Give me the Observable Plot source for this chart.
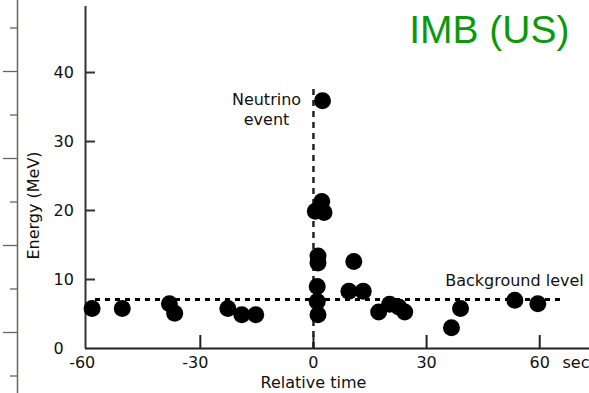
<!DOCTYPE html>
<html>
<head>
<meta charset="utf-8">
<script src="https://cdn.jsdelivr.net/npm/d3@7"></script>
<script src="https://cdn.jsdelivr.net/npm/@observablehq/plot@0.6"></script>
<style>
  html, body { margin: 0; padding: 0; background: #fff; }
  #chart svg { display: block; }
</style>
</head>
<body>
<div id="chart"></div>
<script>
// ---- Data ----
const times    = [-58.7, -50.7, -38.2, -36.8, -22.7, -19.0, -15.3,
                  0.5, 2.2, 2.8, 2.4,
                  1.2, 1.2, 1.0, 1.0, 1.2,
                  10.7, 9.4, 13.2,
                  17.3, 20.2, 22.6, 24.2,
                  36.6, 39.0,
                  53.4, 59.5];
const energies = [5.8, 5.8, 6.5, 5.1, 5.8, 4.9, 4.9,
                  19.9, 21.3, 19.7, 35.9,
                  13.4, 12.4, 9.0, 6.8, 4.9,
                  12.6, 8.3, 8.3,
                  5.3, 6.4, 6.0, 5.3,
                  3.0, 5.8,
                  7.0, 6.5];
const xTicks = [-60, -30, 0, 30, 60];
const yTicks = [0, 10, 20, 30, 40];
const backgroundLevel = 7.1;
const backgroundFrom = -57.8, backgroundTo = 65.9;
const neutrinoTime = 0, neutrinoTop = 37.8;
const titleText = "IMB (US)";
const xLabel = "Relative time";
const yLabel = "Energy (MeV)";
const unitLabel = "sec";
const neutrinoLabel = "Neutrino\nevent";
const backgroundLabel = "Background level";

const points = times.map((t, i) => ({t, e: energies[i]}));

// ---- Layout ----
const W = 589, H = 393;
const mL = 85, mR = 0, mT = 6, mB = 45;
const xDom = [-60.45, 73.2], yDom = [0, 49.57];
const kx = (W - mL - mR) / (xDom[1] - xDom[0]);
const ky = (H - mT - mB) / (yDom[1] - yDom[0]);
const xAt = px => xDom[0] + (px - mL) / kx;      // pixel -> data (decorations)
const yAt = py => (H - mB - py) / ky;
const font = "DejaVu Sans";
const ink = "#111";

const leftRuler = d3.range(9).map(i => ({y: yAt(27.5 + 43.5 * i), long: i % 2 === 1}));

const chart = Plot.plot({
  width: W, height: H,
  marginLeft: mL, marginRight: mR, marginTop: mT, marginBottom: mB,
  x: {domain: xDom, axis: null},
  y: {domain: yDom, axis: null},
  style: {fontFamily: font, background: "#fff", overflow: "visible"},
  marks: [
    // left cropped ruler
    Plot.ruleX([xAt(17)], {y1: yAt(0), y2: yAt(H), stroke: "#66665a", strokeWidth: 1.5}),
    Plot.ruleY(leftRuler, {y: "y", x1: d => xAt(d.long ? 3 : 10), x2: xAt(17.5), stroke: "#66665a", strokeWidth: 1.3}),
    // background level
    Plot.ruleY([backgroundLevel], {x1: backgroundFrom, x2: backgroundTo, stroke: "#000", strokeWidth: 3, strokeDasharray: "5,5"}),
    // neutrino event line
    Plot.ruleX([neutrinoTime], {y1: 0, y2: neutrinoTop, stroke: "#222", strokeWidth: 2.5, strokeDasharray: "6,5"}),
    // axes lines
    Plot.ruleX([xDom[0]], {y1: 0, y2: yDom[1], stroke: "#333", strokeWidth: 2}),
    Plot.ruleY([0], {x1: xDom[0], x2: xDom[1], stroke: "#222", strokeWidth: 2}),
    // ticks (pointing inward)
    Plot.ruleY(yTicks.filter(d => d > 0), {x1: xDom[0], x2: xDom[0] + 10 / kx, stroke: "#333", strokeWidth: 2}),
    Plot.ruleX(xTicks.filter(d => d > -60), {y1: 0, y2: 13 / ky, stroke: "#222", strokeWidth: 2}),
    // y tick labels (left aligned)
    Plot.text(yTicks, {y: d => d, frameAnchor: "left", dx: -32, textAnchor: "start", text: d => String(d), fontSize: 16, fill: ink}),
    // x tick labels
    Plot.text(xTicks.filter(d => d >= 0), {x: d => d, y: 0, dy: 14, textAnchor: "middle", lineAnchor: "middle", text: d => String(d), fontSize: 16, fill: ink}),
    Plot.text(xTicks.filter(d => d < 0), {x: d => d, y: 0, dy: 14, dx: -5, textAnchor: "middle", lineAnchor: "middle", text: d => "-" + String(-d), fontSize: 16, fill: ink}),
    Plot.text([unitLabel], {x: xAt(562), y: 0, dy: 14, textAnchor: "start", lineAnchor: "middle", fontSize: 16, fill: ink}),
    // axis titles
    Plot.text([xLabel], {x: 0, y: 0, dy: 34, textAnchor: "middle", lineAnchor: "middle", fontSize: 16, fill: ink, letterSpacing: 0.3}),
    Plot.text([yLabel], {x: xDom[0], y: yAt(205), dx: -52, rotate: -90, textAnchor: "middle", lineAnchor: "middle", fontSize: 16, fill: ink, letterSpacing: 1.6}),
    // annotations
    Plot.text([neutrinoLabel], {x: xAt(266), y: yAt(108), textAnchor: "middle", lineAnchor: "middle", lineHeight: 1.25, fontSize: 16, fill: ink, letterSpacing: 1.2}),
    Plot.text([backgroundLabel], {x: xAt(514), y: yAt(280), textAnchor: "middle", lineAnchor: "middle", fontSize: 16, fill: ink}),
    // events
    Plot.dot(points, {x: "t", y: "e", r: 8.5, fill: "#000", stroke: "none"}),
    // title
    Plot.text([titleText], {frameAnchor: "top-right", dx: -20, dy: 24, textAnchor: "end", lineAnchor: "middle", fontSize: 39, fontFamily: "Liberation Sans", fill: "#0a990a"})
  ]
});
document.getElementById("chart").appendChild(chart);
</script>
</body>
</html>
